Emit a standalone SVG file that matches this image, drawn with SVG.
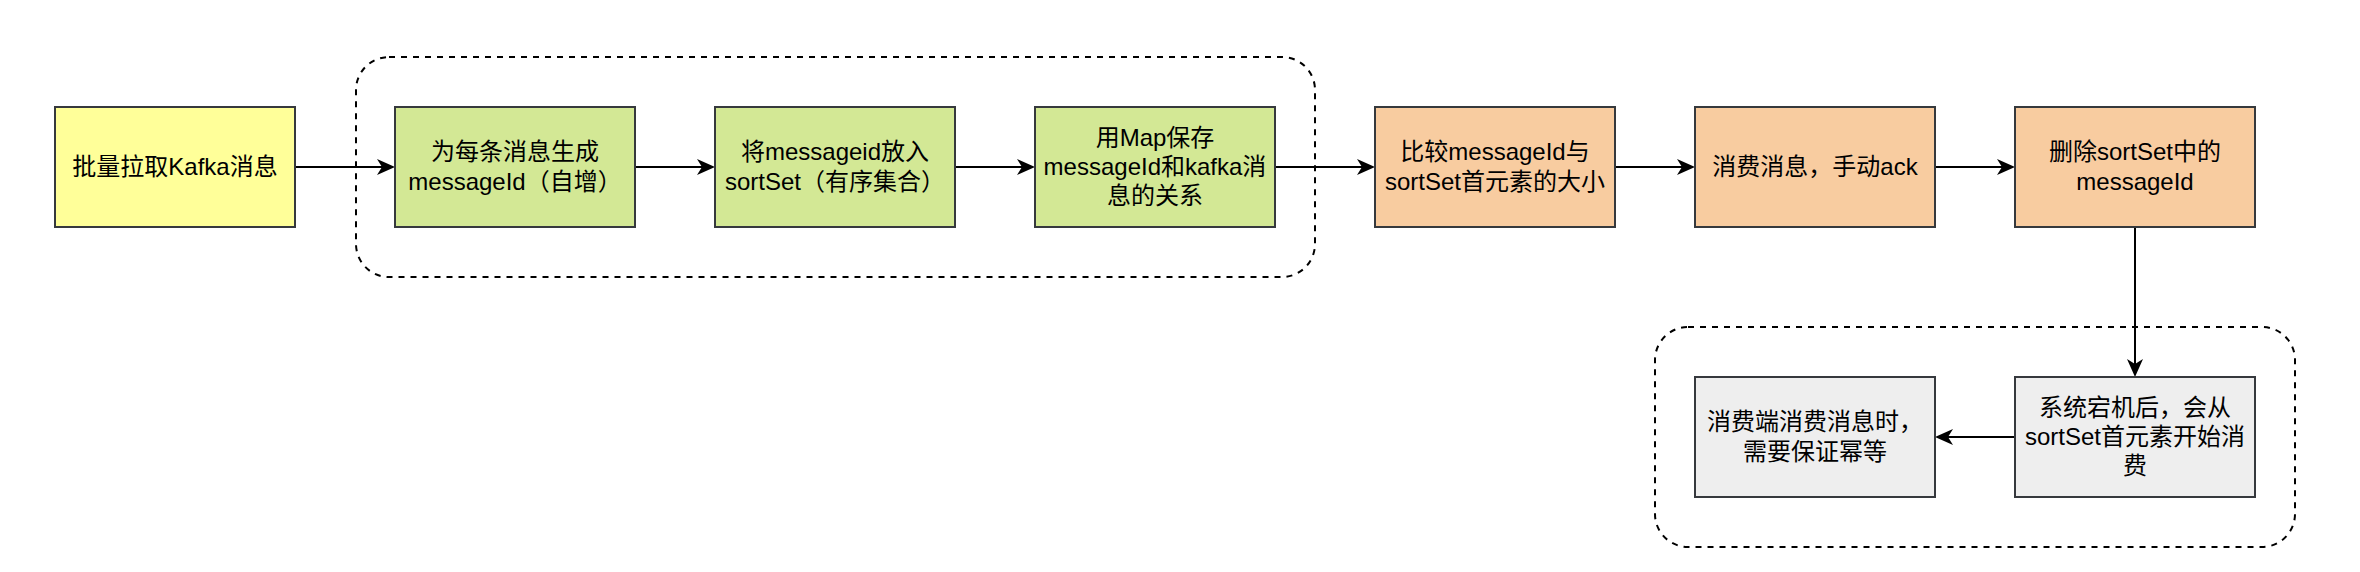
<svg xmlns="http://www.w3.org/2000/svg" width="2360" height="572" viewBox="0 0 2360 572">
<style>
.n{stroke:#36393d;stroke-width:2}
.y{fill:#ffff99}.g{fill:#d3e895}.o{fill:#f8cca0}.s{fill:#eeeeee}
.grp{fill:none;stroke:#000;stroke-width:2;stroke-dasharray:6 6}
.e{fill:none;stroke:#000;stroke-width:2;marker-end:url(#arr)}
text{font-family:"Liberation Sans","Noto Sans CJK SC",sans-serif;font-size:24px;fill:#000;text-anchor:middle}
</style>
<defs>
<marker id="arr" markerUnits="userSpaceOnUse" viewBox="0 0 18 16" refX="12" refY="8" markerWidth="18" markerHeight="16" orient="auto">
<path d="M0,0 L18,8 L0,16 L5,8 Z" fill="#000"/>
</marker>
</defs>
<rect width="2360" height="572" fill="#fff"/>
<g id="groups">
<rect id="group1" class="grp" x="356" y="57" width="959" height="220" rx="33" ry="33"/>
<rect id="group2" class="grp" x="1655" y="327" width="640" height="220" rx="33" ry="33"/>
</g>
<g id="connectors">
<line class="e" x1="295" y1="167" x2="389" y2="167"/>
<line class="e" x1="635" y1="167" x2="709" y2="167"/>
<line class="e" x1="955" y1="167" x2="1029" y2="167"/>
<line class="e" x1="1275" y1="167" x2="1369" y2="167"/>
<line class="e" x1="1615" y1="167" x2="1689" y2="167"/>
<line class="e" x1="1935" y1="167" x2="2009" y2="167"/>
<line class="e" x1="2135" y1="227" x2="2135" y2="371"/>
<line class="e" x1="2015" y1="437" x2="1941" y2="437"/>
</g>
<g id="n1"><rect class="n y" x="55" y="107" width="240" height="120"/>
<text x="175" y="175">批量拉取Kafka消息</text></g>
<g id="n2"><rect class="n g" x="395" y="107" width="240" height="120"/>
<text x="515" y="160">为每条消息生成</text><text x="515" y="190">messageId（自增）</text></g>
<g id="n3"><rect class="n g" x="715" y="107" width="240" height="120"/>
<text x="835" y="160">将messageid放入</text><text x="835" y="190">sortSet（有序集合）</text></g>
<g id="n4"><rect class="n g" x="1035" y="107" width="240" height="120"/>
<text x="1155" y="146">用Map保存</text><text x="1155" y="175">messageId和kafka消</text><text x="1155" y="204">息的关系</text></g>
<g id="n5"><rect class="n o" x="1375" y="107" width="240" height="120"/>
<text x="1495" y="160">比较messageId与</text><text x="1495" y="190">sortSet首元素的大小</text></g>
<g id="n6"><rect class="n o" x="1695" y="107" width="240" height="120"/>
<text x="1815" y="175">消费消息，手动ack</text></g>
<g id="n7"><rect class="n o" x="2015" y="107" width="240" height="120"/>
<text x="2135" y="160">删除sortSet中的</text><text x="2135" y="190">messageId</text></g>
<g id="n8"><rect class="n s" x="2015" y="377" width="240" height="120"/>
<text x="2135" y="416">系统宕机后，会从</text><text x="2135" y="445">sortSet首元素开始消</text><text x="2135" y="474">费</text></g>
<g id="n9"><rect class="n s" x="1695" y="377" width="240" height="120"/>
<text x="1815" y="430">消费端消费消息时，</text><text x="1815" y="460">需要保证幂等</text></g>
</svg>
